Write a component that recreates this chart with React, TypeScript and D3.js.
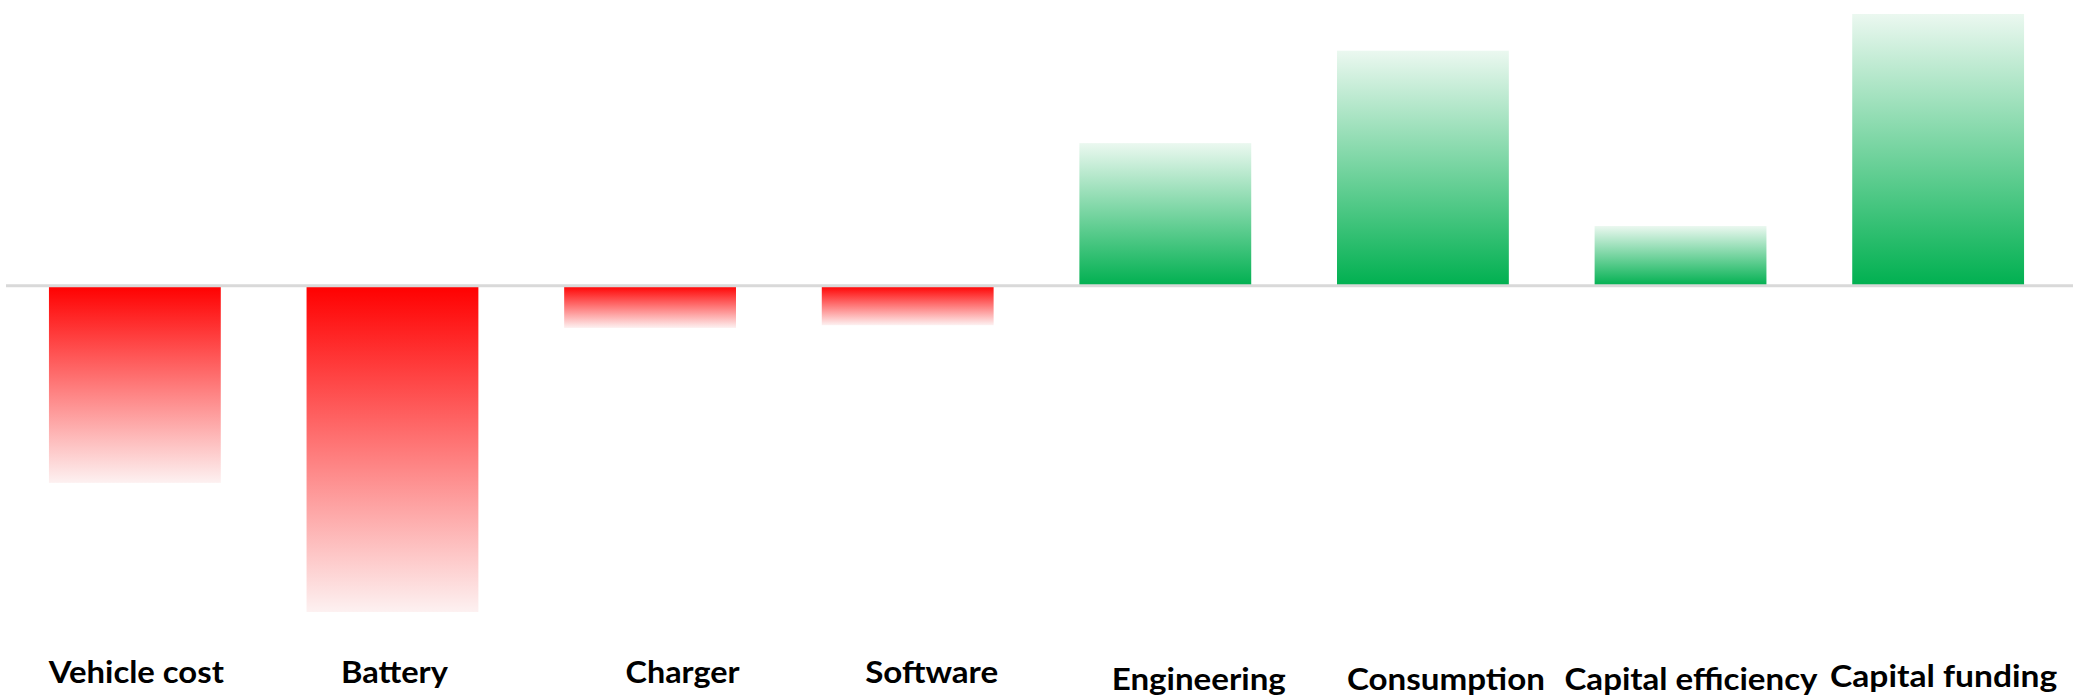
import React from "react";
import * as d3 from "d3";

// ---- data ----
const categories = [
  "Vehicle cost",
  "Battery",
  "Charger",
  "Software",
  "Engineering",
  "Consumption",
  "Capital efficiency",
  "Capital funding",
];
const values = [-14.5, -24.0, -3.1, -2.9, 10.5, 17.3, 4.4, 20.0];

// ---- layout (label text boxes are placed individually in the reference) ----
const labelDx = [1.5, 2, 32.5, 24, 33.5, 23, 10.5, 5.5];
const labelBaseline = [683, 683, 683, 683, 690, 690, 690, 687];
const labelWidth = [175, 107, 114, 133, 174, 198, 253, 227];

const W = 2073;
const H = 697;

export default function App() {
  const x = d3
    .scaleBand<string>()
    .domain(categories)
    .range([0, W])
    .paddingInner(0.333)
    .paddingOuter(0.19);

  const y = d3
    .scaleLinear()
    .domain([d3.min(values) as number, d3.max(values) as number])
    .range([612, 14]);

  const y0 = y(0);

  return (
    <svg
      width={W}
      height={H}
      style={{ position: "absolute", left: 0, top: 0, display: "block", background: "#fff" }}
    >
      <defs>
        <linearGradient id="gradRed" x1="0" y1="0" x2="0" y2="1">
          <stop offset="0%" stopColor="#ff0000" />
          <stop offset="100%" stopColor="#fdf1f1" />
        </linearGradient>
        <linearGradient id="gradGreen" x1="0" y1="1" x2="0" y2="0">
          <stop offset="0%" stopColor="#00b050" />
          <stop offset="100%" stopColor="#ebf8f0" />
        </linearGradient>
      </defs>
      {categories.map((c, i) => {
        const v = values[i];
        const top = Math.min(y(v), y0);
        const h = Math.abs(y(v) - y0);
        return (
          <rect
            key={c}
            x={x(c)}
            y={top}
            width={x.bandwidth()}
            height={h}
            fill={v < 0 ? "url(#gradRed)" : "url(#gradGreen)"}
          />
        );
      })}
      <line x1={6} x2={W} y1={y0} y2={y0} stroke="#d9d9d9" strokeWidth={3} />
      {categories.map((c, i) => (
        <text
          key={c + "-label"}
          x={(x(c) as number) + x.bandwidth() / 2 + labelDx[i]}
          y={labelBaseline[i]}
          textAnchor="middle"
          fontFamily="Lato, 'Open Sans', sans-serif"
          fontWeight={700}
          fontSize={30}
          fill="#000"
          textLength={labelWidth[i]}
          lengthAdjust="spacingAndGlyphs"
        >
          {c}
        </text>
      ))}
    </svg>
  );
}
